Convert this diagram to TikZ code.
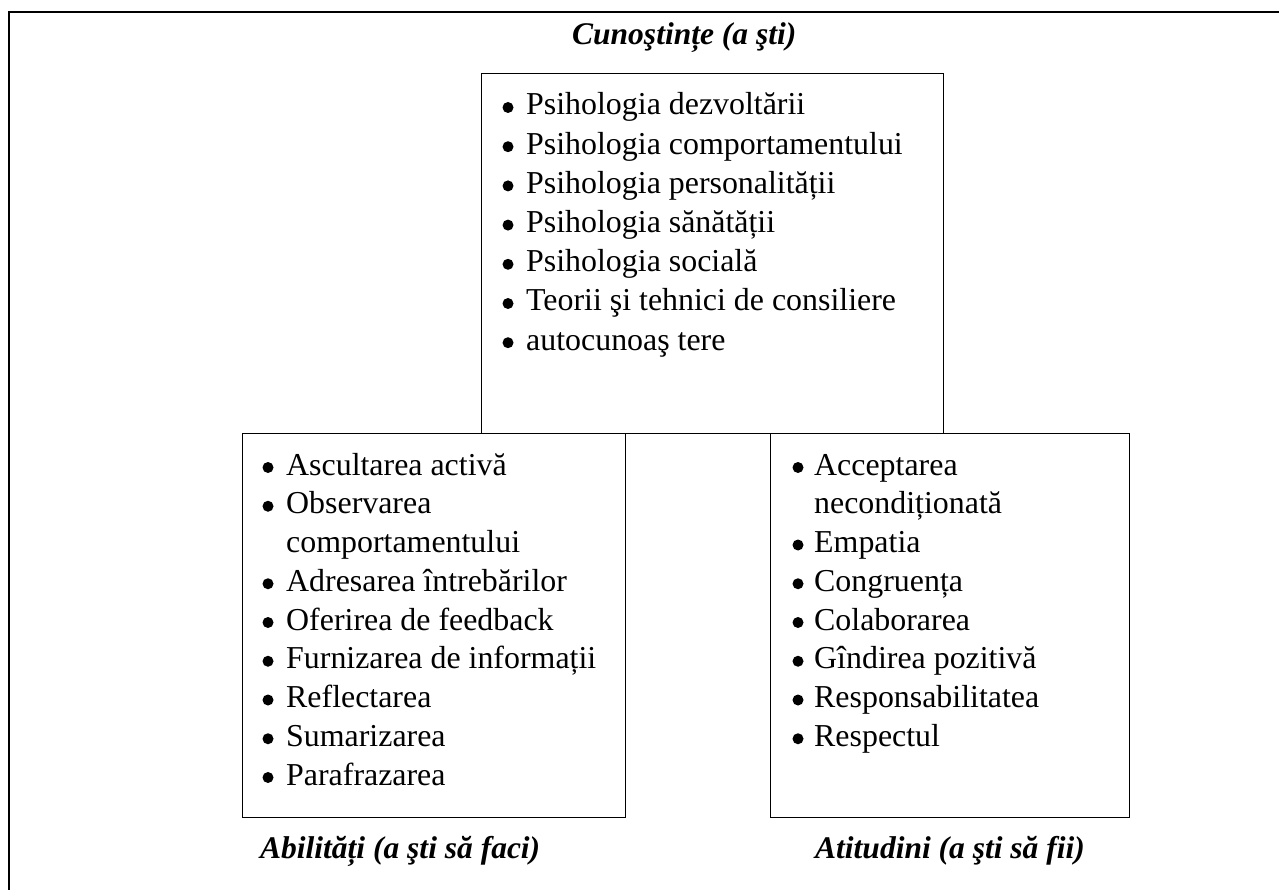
\documentclass[tikz,border=0pt]{standalone}
\usepackage{fontspec}
\setmainfont{Liberation Serif}
\begin{document}
\begin{tikzpicture}[x=1pt,y=-1pt,
  frame/.style={draw,line width=2pt},
  panel/.style={draw,line width=1.4pt,inner sep=0pt,anchor=north west},
  entry/.style={anchor=base west,inner sep=0pt,font=\fontsize{31.9}{38}\selectfont},
  heading/.style={anchor=base west,inner sep=0pt,font=\fontsize{31.5}{38}\selectfont\bfseries\itshape},
  dot/.style={fill=black}]
% page area and outer frame (runs off the right and bottom edges)
\clip (0,0) rectangle (1279,890);
\draw[frame] (9,12.5) rectangle (1300,910);

% the three panels
\node[panel,minimum width=462pt,minimum height=360pt] (know) at (481,73) {};
\node[panel,minimum width=383pt,minimum height=384pt] (skill) at (242,433) {};
\node[panel,minimum width=359pt,minimum height=384pt] (attit) at (770,433) {};

% headings
\node[heading] (hknow) at (572,45) {Cunoştințe (a şti)};
\node[heading] (hskill) at (260,858) {Abilități (a şti să faci)};
\node[heading] (hattit) at (815,858) {Atitudini (a şti să fii)};

% knowledge list
\foreach \t [count=\i] in {Psihologia dezvoltării,Psihologia comportamentului,
  Psihologia personalității,Psihologia sănătății,Psihologia socială,
  Teorii şi tehnici de consiliere,autocunoaş tere}{
  \node[entry] (k\i) at (526,{115+39.2*(\i-1)}) {\t};
  \fill[dot] (508,{107.5+39.2*(\i-1)}) circle (5.5);
}

% skills list
\foreach \t [count=\i] in {Ascultarea activă,Observarea,comportamentului,
  Adresarea întrebărilor,Oferirea de feedback,Furnizarea de informații,
  Reflectarea,Sumarizarea,Parafrazarea}{
  \node[entry] (s\i) at (286,{475+38.75*(\i-1)}) {\t};
}
\foreach \i in {1,2,4,5,6,7,8,9}{
  \fill[dot] (268,{467.5+38.75*(\i-1)}) circle (5.5);
}

% attitudes list
\foreach \t [count=\i] in {Acceptarea,necondiționată,Empatia,Congruența,
  Colaborarea,Gîndirea pozitivă,Responsabilitatea,Respectul}{
  \node[entry] (a\i) at (814,{475+38.75*(\i-1)}) {\t};
}
\foreach \i in {1,3,4,5,6,7,8}{
  \fill[dot] (798,{467.5+38.75*(\i-1)}) circle (5.5);
}
\end{tikzpicture}
\end{document}
